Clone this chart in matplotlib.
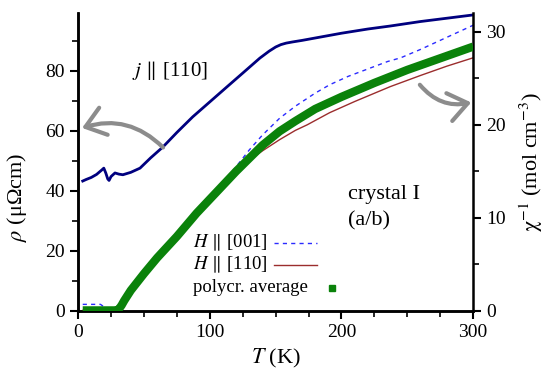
import matplotlib
matplotlib.use('Agg')
import matplotlib.pyplot as plt
from matplotlib.lines import Line2D
from matplotlib.ticker import MultipleLocator

plt.rcParams['font.family'] = ['Liberation Serif', 'DejaVu Serif']
plt.rcParams['mathtext.fontset'] = 'stix'

# resistivity, j || [110]  (left axis)
T_rho = [3.5, 6, 10, 14, 18, 19.5, 21, 22.5, 23.5, 25, 28, 31, 34, 40, 47, 55, 64.5,
         75, 87, 100, 113, 125, 138, 145, 150, 154, 158, 163, 170, 180, 200, 220,
         237, 260, 280, 300]
rho = [43.3, 43.8, 44.5, 45.5, 47.0, 47.6, 46.0, 44.0, 43.5, 44.8, 46.0, 45.6, 45.4,
       46.2, 47.6, 51.0, 54.7, 59.5, 64.7, 69.7, 74.7, 79.3, 84.3, 86.6, 88.0, 88.8,
       89.3, 89.7, 90.2, 91.0, 92.6, 94.0, 95.0, 96.5, 97.6, 98.7]

# inverse susceptibility (right axis)
T_poly = [3.5, 10, 20, 29, 31, 33, 35, 40, 50, 60, 75, 90, 108, 120, 140, 153, 165,
          180, 200, 225, 250, 270, 290, 300]
chi_poly = [0.05, 0.05, 0.05, 0.05, 0.2, 0.6, 1.1, 2.2, 4.0, 5.7, 8.0, 10.5, 13.2,
            15.0, 17.8, 19.3, 20.4, 21.7, 23.0, 24.5, 25.9, 26.9, 27.9, 28.4]

T_001 = [3.5, 10, 17, 22, 29, 31, 33, 35, 40, 50, 60, 75, 90, 100, 108, 120, 130,
         140, 153, 165, 180, 191, 205, 220, 235, 245, 260, 280, 300]
chi_001 = [0.7, 0.7, 0.7, 0.2, 0.1, 0.25, 0.65, 1.15, 2.25, 4.05, 5.75, 8.05, 10.6,
           12.1, 13.4, 15.5, 17.3, 18.9, 20.7, 22.0, 23.4, 24.3, 25.2, 26.0, 26.8,
           27.2, 28.1, 29.4, 30.7]

T_110 = [3.5, 10, 20, 29, 31, 33, 35, 40, 50, 60, 75, 90, 108, 120, 130, 140, 153,
         165, 174, 191, 210, 237, 260, 280, 300]
chi_110 = [0.05, 0.05, 0.05, 0.05, 0.2, 0.6, 1.1, 2.2, 4.0, 5.7, 8.0, 10.5, 13.2,
           14.9, 16.2, 17.2, 18.4, 19.4, 20.0, 21.3, 22.5, 24.1, 25.3, 26.3, 27.2]

legend_labels = [r'$H\,\parallel\,$[001]', r'$H\,\parallel\,$[110]', 'polycr. average']

navy = '#00007f'
blue = '#2b2bff'
red = '#9b2d2d'
green = '#0a820a'
grey = '#8c8c8c'

fig = plt.figure(figsize=(5.58, 3.75), dpi=100)
ax = fig.add_subplot(111)
plt.subplots_adjust(left=0.14, right=0.848, bottom=0.171, top=0.965)
ax2 = ax.twinx()

ax.plot(T_rho, rho, color=navy, lw=2)

ax2.plot(T_001, chi_001, color=blue, lw=1, ls=(0, (3, 3)), zorder=2)
ax2.plot(T_110, chi_110, color=red, lw=1, zorder=2)
ax2.plot(T_poly, chi_poly, color=green, lw=6, solid_capstyle='butt',
         solid_joinstyle='round', zorder=3)

ax.set_xlim(0, 300)
ax.set_ylim(0, 99.3)
ax2.set_ylim(0, 32)

for a in (ax, ax2):
    a.spines['top'].set_visible(False)
    for s in a.spines.values():
        s.set_linewidth(1.8)
    a.tick_params(which='major', direction='out', length=6, width=1.5, labelsize=14)
    a.tick_params(which='minor', direction='out', length=4, width=1.2)
ax.spines['right'].set_visible(False)

ax.xaxis.set_major_locator(MultipleLocator(100))
ax.xaxis.set_minor_locator(MultipleLocator(25))
ax.yaxis.set_major_locator(MultipleLocator(20))
ax.yaxis.set_minor_locator(MultipleLocator(10))
ax2.yaxis.set_major_locator(MultipleLocator(10))
ax2.yaxis.set_minor_locator(MultipleLocator(5))

ax.set_xlabel(r'$T$ (K)', fontsize=16, labelpad=4)
ax.set_ylabel(r'$\rho$ (μΩcm)', fontsize=16)
ax.yaxis.set_label_coords(-0.125, 0.38)
ax2.set_ylabel(r'$\mathrm{\chi}^{-1}$ (mol cm$^{-3}$)', fontsize=16, labelpad=8)

ax.text(41, 80.3, r'$j\,\parallel\,$[110]', fontsize=15, va='center', ha='left')
ax.text(205, 38.7, 'crystal I', fontsize=16, va='center', ha='left')
ax.text(205, 30.0, '(a/b)', fontsize=16, va='center', ha='left')

# curved arrows pointing to the axes
arrow = dict(arrowstyle='->,head_length=0.8,head_width=0.6', color=grey, lw=3,
             mutation_scale=17, shrinkA=0, shrinkB=0)
ax.annotate('', xy=(3, 61.0), xytext=(64.5, 54.5),
            arrowprops=dict(arrow, connectionstyle='arc3,rad=0.3'),
            annotation_clip=False)
ax2.annotate('', xy=(298.5, 22.4), xytext=(259.5, 24.3),
             arrowprops=dict(arrow, connectionstyle='arc3,rad=0.3'),
             annotation_clip=False)

# legend: text left-aligned, handles to the right
rows = [0.228, 0.154, 0.077]
handles = [dict(color=blue, lw=1, ls=(0, (3, 3))),
           dict(color=red, lw=1),
           dict(color=green, marker='s', ls='none', markersize=5)]
for yy, lab, st in zip(rows, legend_labels, handles):
    ax2.text(0.291, yy, lab, transform=ax2.transAxes, fontsize=13.5,
             va='center', ha='left')
    if st.get('marker'):
        ln = Line2D([0.643], [yy], transform=ax2.transAxes, **st)
    else:
        ln = Line2D([0.496, 0.605], [yy, yy], transform=ax2.transAxes, **st)
    ax2.add_line(ln)

fig.savefig('out.png', dpi=100)
